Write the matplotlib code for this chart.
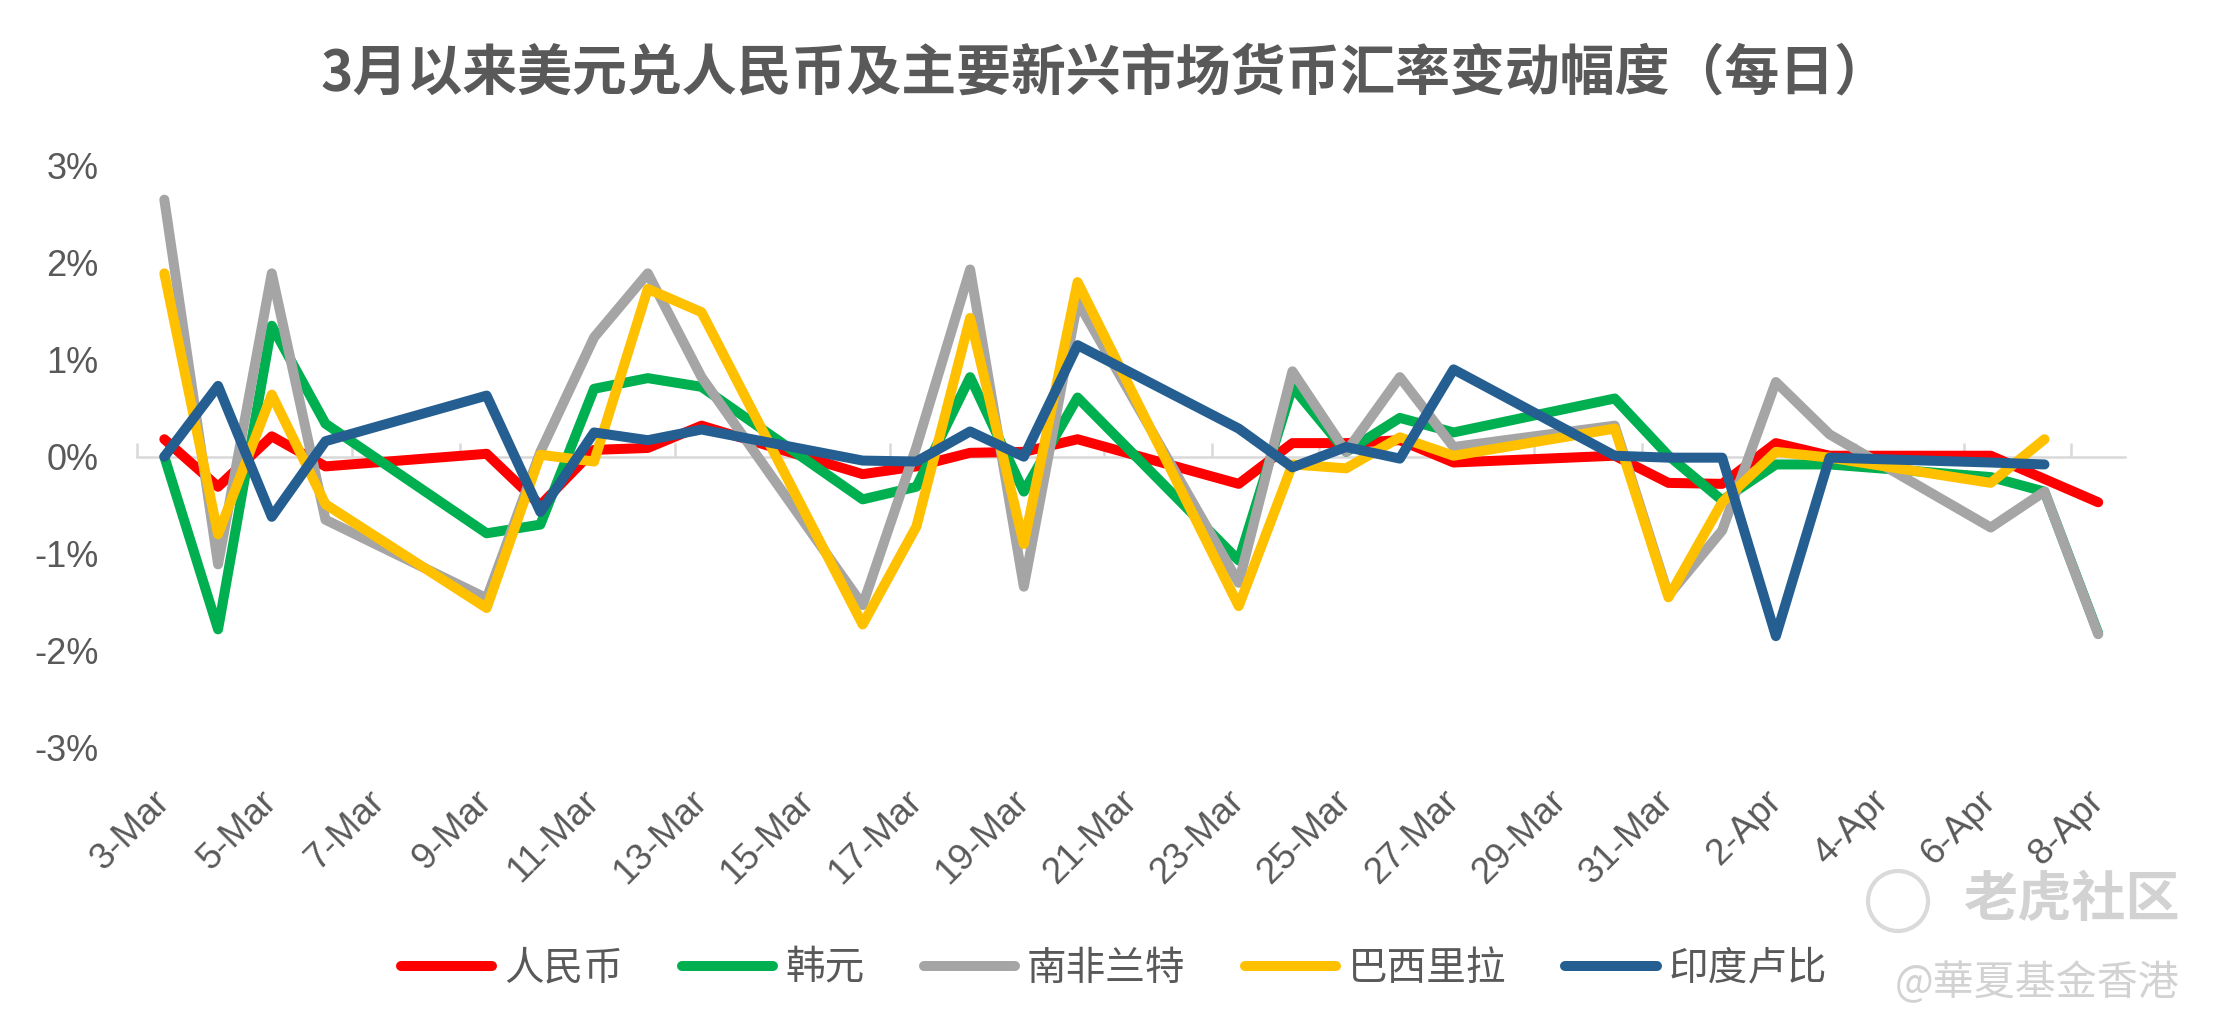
import pandas as pd
import numpy as np
import matplotlib
matplotlib.use("Agg")
import matplotlib.pyplot as plt
import matplotlib.dates as mdates
from matplotlib.patches import Ellipse

plt.rcParams['font.family'] = ['Noto Sans CJK SC', 'DejaVu Sans']

# 交易日
dates = ["2020-03-03", "2020-03-04", "2020-03-05", "2020-03-06", "2020-03-09",
         "2020-03-10", "2020-03-11", "2020-03-12", "2020-03-13", "2020-03-16",
         "2020-03-17", "2020-03-18", "2020-03-19", "2020-03-20", "2020-03-23",
         "2020-03-24", "2020-03-25", "2020-03-26", "2020-03-27", "2020-03-30",
         "2020-03-31", "2020-04-01", "2020-04-02", "2020-04-03", "2020-04-06",
         "2020-04-07", "2020-04-08"]

# 每日变动幅度（%）
cny = [0.18, -0.31, 0.21, -0.10, 0.03, -0.50, 0.07, 0.09, 0.32, -0.18,
       -0.10, 0.04, 0.05, 0.18, -0.28, 0.14, 0.14, 0.17, -0.06, 0.01,
       -0.27, -0.28, 0.14, 0.01, 0.01, -0.23, -0.47]
krw = [0.00, -1.78, 1.35, 0.34, -0.79, -0.70, 0.70, 0.81, 0.72, -0.44,
       -0.31, 0.82, -0.36, 0.61, -1.07, 0.72, 0.05, 0.40, 0.25, 0.60,
       0.01, -0.45, -0.08, -0.08, -0.21, -0.36, -1.82]
zar = [2.65, -1.11, 1.89, -0.65, -1.46, 0.05, 1.23, 1.89, 0.82, -1.53,
       0.10, 1.93, -1.34, 1.60, -1.30, 0.88, 0.05, 0.82, 0.10, 0.32,
       -1.43, -0.76, 0.77, 0.23, -0.73, -0.36, -1.83]
brl = [1.89, -0.80, 0.64, -0.49, -1.56, 0.02, -0.05, 1.73, 1.49, -1.73,
       -0.72, 1.43, -0.90, 1.80, -1.54, -0.08, -0.12, 0.20, 0.01, 0.29,
       -1.45, -0.47, 0.05, -0.01, -0.27, 0.18, np.nan]
inr = [0.00, 0.73, -0.62, 0.16, 0.63, -0.57, 0.25, 0.17, 0.28, -0.04,
       -0.05, 0.26, 0.00, 1.15, 0.29, -0.11, 0.10, -0.02, 0.90, 0.01,
       -0.01, -0.01, -1.85, -0.01, -0.06, -0.08, np.nan]

series_names = ["人民币", "韩元", "南非兰特", "巴西里拉", "印度卢比"]
series_vals = [cny, krw, zar, brl, inr]
colors = ["#FF0000", "#00B050", "#A5A5A5", "#FFC000", "#255E91"]

yticks = [-3, -2, -1, 0, 1, 2, 3]

title = "3月以来美元兑人民币及主要新兴市场货币汇率变动幅度（每日）"
txt_color = "#595959"

x = pd.to_datetime(dates)
one_day = pd.Timedelta(days=1)

fig = plt.figure(figsize=(22.21, 10.35), dpi=100)
ax = fig.add_axes([0.0619, 0.2776, 0.8949, 0.5623])

for name, vals, c in zip(series_names, series_vals, colors):
    ax.plot(x, vals, color=c, lw=7.2, label=name,
            solid_joinstyle="round", solid_capstyle="round")

ax.set_xlim(x[0] - one_day / 2, x[-1] + one_day / 2)
ax.set_ylim(-3, 3)

# x轴标签：每两天
label_days = pd.date_range(x[0], x[-1], freq="2D")
ax.set_xticks(label_days)
ax.set_xticklabels([f"{d.day}-{d.strftime('%b')}" for d in label_days],
                   rotation=45, ha="right", va="center", rotation_mode="anchor")
ax.tick_params(axis="x", length=0, pad=35, labelsize=26.5, labelcolor=txt_color)

ax.set_yticks(yticks)
ax.set_yticklabels([f"{v}%" for v in yticks])
ax.tick_params(axis="y", length=0, pad=28, labelsize=26, labelcolor=txt_color)
for lbl in ax.get_xticklabels() + ax.get_yticklabels():
    lbl.set_fontfamily("Liberation Sans")

for s in ax.spines.values():
    s.set_visible(False)

# 0轴线和刻度
sec = ax.secondary_xaxis(0.5)
for s in sec.spines.values():
    s.set_color("#D9D9D9")
    s.set_linewidth(1.8)
edges = pd.date_range(x[0] - one_day / 2, x[-1] + one_day / 2, freq="2D")
sec.set_xticks(mdates.date2num(edges))
sec.tick_params(axis="x", direction="out", length=10, width=1.8, color="#D9D9D9",
                labeltop=False, labelbottom=False)

fig.text(0.4975, 0.929, title, ha="center", va="center", fontsize=39.5,
         fontweight="bold", color=txt_color)

leg = ax.legend(loc="center", bbox_to_anchor=(0.5016, 0.064),
                bbox_transform=fig.transFigure, ncol=5, frameon=False,
                fontsize=28.5, handlelength=2.3, handletextpad=0.3,
                columnspacing=1.5)
for t in leg.get_texts():
    t.set_color(txt_color)

# 水印
fig.add_artist(Ellipse((1898 / 2221, 1 - 901 / 1035), 60 / 2221, 60 / 1035,
                       transform=fig.transFigure, fill=False,
                       edgecolor="#DADADA", lw=3))
fig.text(0.9815, 0.1295, "老虎社区", ha="right", va="center", fontsize=39,
         fontweight="bold", color="#D2D2D2")
fig.text(0.9815, 0.050, "@華夏基金香港", ha="right", va="center", fontsize=29.5,
         color="#D2D2D2")

fig.savefig("out.png", dpi=100)
